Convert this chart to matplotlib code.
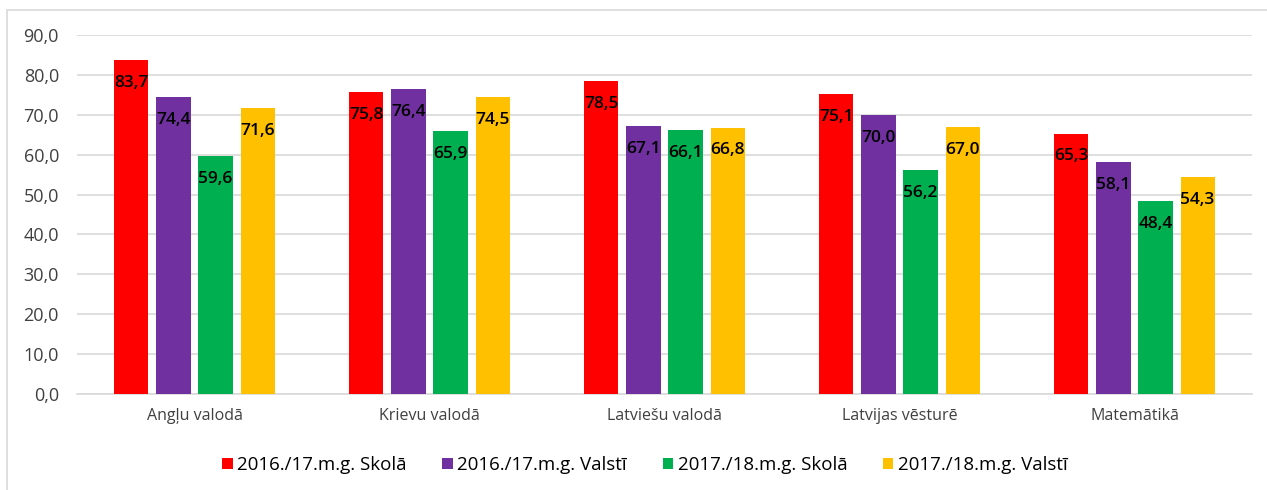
import matplotlib.pyplot as plt
import numpy as np

# data
categories = ['Angļu valodā', 'Krievu valodā', 'Latviešu valodā', 'Latvijas vēsturē', 'Matemātikā']
series_names = ['2016./17.m.g. Skolā', '2016./17.m.g. Valstī', '2017./18.m.g. Skolā', '2017./18.m.g. Valstī']
skola_1617 = [83.7, 75.8, 78.5, 75.1, 65.3]
valsti_1617 = [74.4, 76.4, 67.1, 70.0, 58.1]
skola_1718 = [59.6, 65.9, 66.1, 56.2, 48.4]
valsti_1718 = [71.6, 74.5, 66.8, 67.0, 54.3]
colors = ['#ff0000', '#7030a0', '#00b050', '#ffc000']

plt.rcParams['font.family'] = ['Open Sans', 'DejaVu Sans']

fig = plt.figure(figsize=(12.67, 4.9), dpi=100)
ax = fig.add_axes([77 / 1267, 96 / 490, 1175 / 1267, 359 / 490])

# outer frame like the excel chart border
frame = plt.Rectangle((7 / 1267, -0.1), 1.1, (480 / 490) + 0.1, transform=fig.transFigure,
                      fill=False, edgecolor='#d9d9d9', linewidth=1.2)
fig.patches.append(frame)

x = np.arange(len(categories))
step = 0.179
width = 0.145
all_series = [skola_1617, valsti_1617, skola_1718, valsti_1718]
for i, (vals, name, c) in enumerate(zip(all_series, series_names, colors)):
    pos = x + (i - 1.5) * step
    bars = ax.bar(pos, vals, width, color=c, label=name, zorder=3)
    for b, v in zip(bars, vals):
        ax.annotate(('%.1f' % v).replace('.', ','), (b.get_x() + b.get_width() / 2, v),
                    xytext=(0, -16.5), textcoords='offset points', ha='center', va='center',
                    fontsize=12.5, fontweight='semibold', color='black', zorder=4)

ax.set_xlim(-0.5, len(categories) - 0.5)
ax.set_ylim(0, 90)
ax.set_yticks(np.arange(0, 91, 10))
ax.set_yticklabels([('%.1f' % t).replace('.', ',') for t in np.arange(0, 91, 10)])
ax.set_xticks(x)
ax.set_xticklabels(categories)
ax.tick_params(axis='both', length=0, colors='#404040')
ax.tick_params(axis='y', pad=13, labelsize=13)
ax.tick_params(axis='x', pad=10, labelsize=11.5)
ax.grid(axis='y', color='#d9d9d9', linewidth=1.2, zorder=0)
for s in ['top', 'right', 'left']:
    ax.spines[s].set_visible(False)
ax.spines['bottom'].set_color('#d9d9d9')
ax.spines['bottom'].set_linewidth(1.2)

fig.legend(loc='center', bbox_to_anchor=(645 / 1267, 1 - 465 / 490), ncol=4, frameon=False,
           fontsize=13.5, handlelength=0.55, handleheight=0.55, handletextpad=0.25, columnspacing=1.9)

fig.savefig('out.png', dpi=100)
